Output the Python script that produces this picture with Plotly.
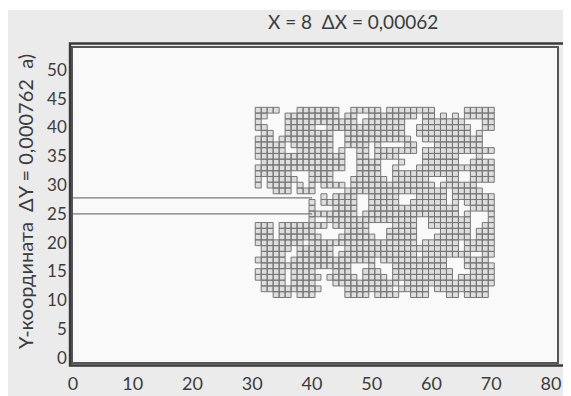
import plotly.graph_objects as go

# Cluster grid: row 0 is the top row (y = 43), row 32 the bottom (y = 11);
# column 0 is x = 31, column 39 is x = 70.  '#' = occupied cell.
grid_rows = [
    "####...#######..#####.########.....#####",
    "##...#########.##..########.##.#.#.#####",
    "#....############.#######...#######...##",
    "##...#####..#############..#########..##",
    ".##..########..##########..#########.#..",
    "###.#########..###########..##########..",
    "#####.#######..####.#....##...########..",
    "#####..######.#..##.#######.############",
    "###############..##.####....######...#..",
    ".##############..####...#...######..####",
    "###############..####..#...#############",
    "######...####....####..###########..####",
    "#.#####..####...######.######...##..####",
    "#.####.#.#.####.##############.######...",
    "...###.###.....#################.#####..",
    "...........#.####..#####...#####.#######",
    ".........#.######..#####..######.#.#####",
    ".........#...####..###############..####",
    ".........########.################.#...#",
    ".........#..###############..#######...#",
    "###.########.######....####..#######..##",
    "###.######.....####...#####....#####.###",
    "###.#######...######..#####...######.###",
    "########.##################.######.#####",
    ".#####.######..###################.#####",
    ".####..######.#############.########..##",
    "#####.##############.###########...####.",
    ".###############...#...#########...#####",
    "#####.####...###..###..##########...####",
    "#####.#####.#####.####.##########.######",
    ".####.####...###########.###############",
    ".##########....########.#####.#########.",
    "...###.###.....####.####..###...##.####.",
]
grid_x0 = 31      # x of column 0
grid_y0 = 43      # y of row 0

channel_x = [0, 40]
channel_y = [25.0, 27.8]

x_ticks = [0, 10, 20, 30, 40, 50, 60, 70, 80]
y_ticks = [0, 5, 10, 15, 20, 25, 30, 35, 40, 45, 50]

title_text = "X = 8\u00a0\u00a0ΔX = 0,00062"
ytitle_text = "Y-координата\u00a0\u00a0ΔY = 0,000762\u00a0\u00a0а)"

# build cell polygons
px, py = [], []
h = 0.5
for r, row in enumerate(grid_rows):
    for c, ch in enumerate(row):
        if ch == "#":
            cx = grid_x0 + c
            cy = grid_y0 - r
            px += [cx - h, cx + h, cx + h, cx - h, cx - h, None]
            py += [cy - h, cy - h, cy + h, cy + h, cy - h, None]

fig = go.Figure()
fig.add_trace(go.Scatter(
    x=px, y=py, mode="lines", fill="toself",
    fillcolor="#dedede", line=dict(color="#767676", width=1),
    hoverinfo="skip", showlegend=False))
for yv in channel_y:
    fig.add_trace(go.Scatter(
        x=channel_x, y=[yv, yv], mode="lines",
        line=dict(color="#7a7a7a", width=1.2),
        hoverinfo="skip", showlegend=False))

# plot area in page pixels (the page adds an 8 px body margin)
PL, PR, PT, PB = 73, 557, 48, 362
W, H = PR - PL, PB - PT

FONT = "Lato"
TXT = "#3c3c3c"
fig.update_layout(
    width=563, height=388,
    margin=dict(l=PL - 8, r=571 - PR, t=PT - 8, b=396 - PB, autoexpand=False),
    paper_bgcolor="#ebebeb",
    plot_bgcolor="#f9f9f9",
    font=dict(family=FONT, size=16, color=TXT),
    showlegend=False,
    xaxis=dict(range=[0, 81], tickvals=x_ticks, ticks="", showgrid=False,
               zeroline=False, showline=True, linecolor="#555555", linewidth=1.5,
               mirror=True, ticklabelstandoff=5, automargin=False,
               tickfont=dict(family=FONT, size=18, color=TXT)),
    yaxis=dict(range=[-0.7, 53.8], tickvals=y_ticks, ticks="", showgrid=False,
               zeroline=False, showline=True, linecolor="#555555", linewidth=1.5,
               mirror=True, ticklabelstandoff=1, automargin=False,
               tickfont=dict(family=FONT, size=17, color=TXT)),
    shapes=[
        dict(type="rect", xref="paper", yref="paper", layer="below",
             x0=-0.3, x1=1.2, y0=(PB - 10) / H, y1=1.4,
             fillcolor="white", line=dict(width=0)),
        dict(type="rect", xref="paper", yref="paper", layer="above",
             x0=(70 - PL) / W, x1=(610 - PL) / W,
             y0=(PB - 365.5) / H, y1=(PB - 43.5) / H,
             fillcolor="rgba(0,0,0,0)", line=dict(color="#3a3a3a", width=2.4)),
    ],
    annotations=[
        dict(text=title_text, xref="paper", yref="paper",
             x=(353 - PL) / W, y=(PB - 8.5) / H, xanchor="center", yanchor="top",
             borderpad=0, showarrow=False, font=dict(family=FONT, size=19, color=TXT)),
        dict(text=ytitle_text, xref="paper", yref="paper", textangle=-90,
             x=(25 - PL) / W, y=(PB - 202) / H, xanchor="center", yanchor="middle",
             showarrow=False, font=dict(family=FONT, size=20, color=TXT)),
    ],
)

fig.write_html("out.html")
